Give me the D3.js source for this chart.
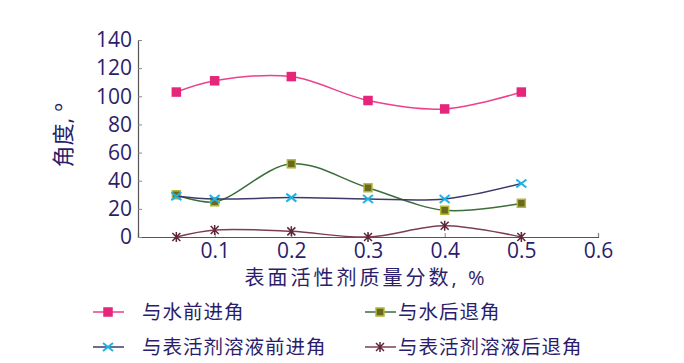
<!DOCTYPE html>
<html>
<head>
<meta charset="utf-8">
<script src="https://cdn.jsdelivr.net/npm/d3@7"></script>
<style>
  body { margin: 0; background: #fff; }
  svg text { font-family: "Open Sans", "Noto Sans CJK SC", sans-serif; fill: #2b1d6b; }
</style>
</head>
<body>
<div id="chart"></div>
<script>
// concentrations (mass fraction, %)
var conc = [0.05, 0.1, 0.2, 0.3, 0.4, 0.5]
var waterAdv = [103, 111, 114, 97, 91, 103]
var waterRec = [30, 25, 52, 35, 19, 24]
var surfAdv = [29, 27, 28, 27, 27, 38]
var surfRec = [0, 5, 4, 0, 8, 0]
var seriesNames = ['与水前进角', '与水后退角', '与表活剂溶液前进角', '与表活剂溶液后退角']
var xTicks = [0.1, 0.2, 0.3, 0.4, 0.5, 0.6]
var yTicks = [0, 20, 40, 60, 80, 100, 120, 140]

var width = 684
height = 363

var series = [
  { name: seriesNames[0], values: waterAdv, line: '#ec3f8c', marker: 'square', fill: '#e5267b', stroke: '#e5267b' },
  { name: seriesNames[1], values: waterRec, line: '#3a6e3a', marker: 'square', fill: '#6a6a1e', stroke: '#b3b83a' },
  { name: seriesNames[2], values: surfAdv, line: '#3d3a6a', marker: 'x', fill: 'none', stroke: '#1eb2e6' },
  { name: seriesNames[3], values: surfRec, line: '#7e3e52', marker: 'star', fill: 'none', stroke: '#5e2438' }
];

var svg = d3.select('#chart').append('svg')
  .attr('width', width)
  .attr('height', height);

var x = d3.scaleLinear().domain([0, 0.6]).range([138, 598]);
var y = d3.scaleLinear().domain([0, 140]).range([237, 40]);

// axes
var xAxis = svg.append('g')
  .attr('transform', 'translate(0,' + y(0) + ')')
  .call(d3.axisBottom(x).tickValues(xTicks).tickSize(-4).tickPadding(6).tickFormat(d3.format('.1f')));
var yAxis = svg.append('g')
  .attr('transform', 'translate(' + x(0) + ',0)')
  .call(d3.axisLeft(y).tickValues(yTicks).tickSize(-4).tickPadding(6));

[xAxis, yAxis].forEach(function (a) {
  a.select('.domain').attr('stroke', '#555').attr('stroke-width', 1.2);
  a.selectAll('.tick line').attr('stroke', '#888');
  a.selectAll('.tick text').style('font-size', '21px').attr('fill', '#2b1d6b');
});

// axis titles
svg.append('text')
  .attr('x', 366).attr('y', 285)
  .attr('text-anchor', 'middle')
  .style('font-size', '20px')
  .style('letter-spacing', '3px')
  .text('表面活性剂质量分数, %');

svg.append('text')
  .attr('transform', 'translate(71,135) rotate(-90)')
  .attr('text-anchor', 'middle')
  .style('font-size', '22px')
  .text('角度, °');

var line = d3.line()
  .x(function (d, i) { return x(conc[i]); })
  .y(function (d) { return y(d); })
  .curve(d3.curveCatmullRom.alpha(0.5));

function drawMarker(g, s, cx, cy) {
  if (s.marker === 'square') {
    g.append('rect')
      .attr('x', cx - 4).attr('y', cy - 4)
      .attr('width', 8).attr('height', 8)
      .attr('fill', s.fill).attr('stroke', s.stroke).attr('stroke-width', 1.5);
  } else if (s.marker === 'x') {
    g.append('path')
      .attr('d', 'M' + (cx - 5) + ',' + (cy - 4) + 'L' + (cx + 5) + ',' + (cy + 4) +
        'M' + (cx - 5) + ',' + (cy + 4) + 'L' + (cx + 5) + ',' + (cy - 4))
      .attr('stroke', s.stroke).attr('stroke-width', 2);
  } else {
    g.append('path')
      .attr('d', 'M' + (cx - 4) + ',' + (cy - 4) + 'L' + (cx + 4) + ',' + (cy + 4) +
        'M' + (cx - 4) + ',' + (cy + 4) + 'L' + (cx + 4) + ',' + (cy - 4) +
        'M' + cx + ',' + (cy - 5) + 'L' + cx + ',' + (cy + 5))
      .attr('stroke', s.stroke).attr('stroke-width', 1.5);
  }
}

series.forEach(function (s) {
  svg.append('path')
    .attr('d', line(s.values))
    .attr('fill', 'none')
    .attr('stroke', s.line)
    .attr('stroke-width', 1.5);
  var g = svg.append('g');
  s.values.forEach(function (v, i) {
    drawMarker(g, s, x(conc[i]), y(v));
  });
});

// legend
var legendPos = [[93, 312], [365, 312], [93, 347], [365, 347]];
series.forEach(function (s, i) {
  var lx = legendPos[i][0], ly = legendPos[i][1];
  var g = svg.append('g');
  g.append('line')
    .attr('x1', lx).attr('x2', lx + 31)
    .attr('y1', ly).attr('y2', ly)
    .attr('stroke', s.line).attr('stroke-width', 1.5);
  drawMarker(g, s, lx + 15, ly);
  g.append('text')
    .attr('x', i % 2 === 0 ? lx + 49 : lx + 33)
    .attr('y', ly + 7)
    .style('font-size', '19.5px')
    .style('letter-spacing', '1px')
    .text(s.name);
});
</script>
</body>
</html>
